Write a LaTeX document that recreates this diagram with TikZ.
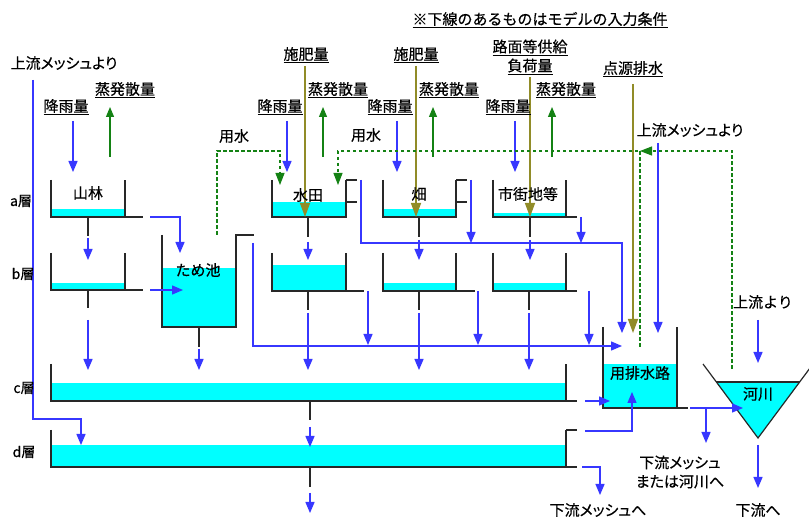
\documentclass[tikz,border=0pt]{standalone}
\usepackage{fontspec}
\setmainfont[FakeBold=0.4]{Noto Sans CJK JP}
\newfontfamily\kanafont[RawFeature=+palt,FakeBold=0.4]{Noto Sans CJK JP}
\usepackage{tikz}
\usetikzlibrary{arrows.meta}
\definecolor{flowblue}{RGB}{55,55,255}
\definecolor{wallgray}{RGB}{40,40,40}
\definecolor{watercyan}{RGB}{0,255,255}
\definecolor{usegreen}{RGB}{20,130,20}
\definecolor{fertolive}{RGB}{145,140,40}

% open tank: left, right, top, bottom, water level
\newcommand{\tank}[5]{%
  \fill[water] (#1,#5) rectangle (#2,#4);
  \draw[wall] (#1,#3) -- (#1,#4) -- (#2,#4) -- (#2,#3);}
% drain below a tank: x, tank bottom, stub end, arrow start, arrow tip
\newcommand{\drain}[5]{%
  \draw[wall] (#1,#2) -- (#1,#3);
  \draw[flow] (#1,#4) -- (#1,#5);}

\begin{document}
\begin{tikzpicture}[x=1pt, y=-1pt,
      wall/.style={draw=wallgray, line width=1.2pt},
      water/.style={fill=watercyan},
      flow/.style={draw=flowblue, line width=1.3pt, -{Triangle[length=11pt,width=9pt]}},
      supply/.style={draw=usegreen, line width=1.1pt, dash pattern=on 3.5pt off 2.5pt,
                     -{Triangle[length=12pt,width=9pt]}},
      evap/.style={draw=usegreen, line width=1.2pt, -{Triangle[length=10pt,width=8pt]}},
      nutrient/.style={draw=fertolive, line width=1.4pt, -{Triangle[length=14pt,width=10pt]}},
      lbl/.style={font=\fontsize{15}{19}\selectfont, inner sep=0pt, align=center},
      kana/.style={font=\kanafont\fontsize{15}{19}\selectfont, inner sep=0pt, align=center},
      lay/.style={font=\fontsize{14}{16}\selectfont, inner sep=0pt}
  ]
    \clip (0,0) rectangle (809,518);
    \fill[white] (0,0) rectangle (809,518);

    % tanks, layer a
    \tank{51}{125}{180}{217}{209}  \draw[wall] (125,217) -- (143,217);
    \tank{272}{346}{180}{217}{202} \draw[wall] (346,180) -- (357,180) (346,202) -- (357,202);
    \tank{383}{456}{180}{217}{209} \draw[wall] (456,180) -- (467,180) (456,202) -- (467,202);
    \tank{493}{566}{180}{217}{213} \draw[wall] (566,217) -- (577,217);
    % tanks, layer b
    \tank{51}{125}{253}{290}{283}  \draw[wall] (125,290) -- (143,290);
    \tank{272}{346}{253}{291}{265} \draw[wall] (346,291) -- (364,291);
    \tank{383}{456}{253}{291}{283} \draw[wall] (456,291) -- (475,291);
    \tank{493}{566}{253}{291}{283} \draw[wall] (566,291) -- (577,291);
    % pond
    \fill[water] (162,268) rectangle (236,327);
    \draw[wall] (162,235) -- (162,327) -- (236,327) -- (236,235) -- (254,235);
    % layers c and d
    \tank{51}{566}{364}{401}{383}  \draw[wall] (566,401) -- (577,401);
    \tank{51}{566}{430}{467}{445}  \draw[wall] (566,430) -- (577,430) (566,467) -- (577,467);
    % canal
    \tank{603}{677}{327}{408}{364} \draw[wall] (677,408) -- (688,408);
    % river
    \fill[water] (716,382) -- (758,438) -- (800,382) -- cycle;
    \draw[wall] (703,364) -- (758,438) -- (813,364);
    \draw[wall] (716,382) -- (800,382);

    % drains between layers
    \drain{88}{217}{236}{238}{260}   \drain{88}{290}{308}{320}{370}
    \drain{308}{217}{237}{242}{260}  \drain{308}{291}{310}{313}{370}
    \drain{419}{217}{237}{240}{260}  \drain{419}{291}{310}{313}{370}
    \drain{530}{217}{237}{240}{260}  \drain{529}{291}{310}{313}{370}
    \drain{199}{327}{347}{349}{370}
    \drain{310}{401}{420}{427}{447}  \drain{310}{467}{487}{493}{513}

    % rain and evapotranspiration
    \foreach \xr/\xe in {73/110, 287/323, 397/433, 515/552} {
      \draw[flow] (\xr,121) -- (\xr,172);
      \draw[evap] (\xe,157) -- (\xe,107);
    }
    % fertilizer, load, point source
    \draw[nutrient] (305,66) -- (305,217);
    \draw[nutrient] (416,66) -- (416,217);
    \draw[nutrient] (530,77) -- (530,217);
    \draw[nutrient] (633,84) -- (633,333);

    % lateral flows
    \draw[flow] (33,80) -- (33,419) -- (81,419) -- (81,445);
    \draw[flow] (150,217) -- (180,217) -- (180,253);
    \draw[flow] (150,290) -- (183,290);
    \draw[flow] (361,180) -- (361,243) -- (622,243) -- (622,333);
    \draw[flow] (471,180) -- (471,243);
    \draw[flow] (581,217) -- (581,243);
    \draw[flow] (253,243) -- (253,346) -- (622,346);
    \draw[flow] (368,291) -- (368,345);
    \draw[flow] (478,291) -- (478,345);
    \draw[flow] (589,291) -- (589,345);
    \draw[flow] (585,401) -- (610,401);
    \draw[flow] (585,431) -- (632,431) -- (632,392);
    \draw[flow] (582,467) -- (600,467) -- (600,495);
    \draw[flow] (658,143) -- (658,333);
    \draw[flow] (690,408) -- (743,408);
    \draw[flow] (706,408) -- (706,443);
    \draw[flow] (758,320) -- (758,363);
    \draw[flow] (758,445) -- (758,488);

    % irrigation water
    \draw[supply] (217,235) -- (217,151) -- (280,151) -- (280,185);
    \draw[supply] (640,347) -- (640,151) -- (338,151) -- (338,185);
    \draw[supply] (732,369) -- (732,151) -- (640,151);

    % labels
    \node[lbl] (note) at (540,20) {\underline{※下線のあるものはモデルの入力条件}};
    \node[kana] (upL) at (64,63) {上流メッシュより};
    \node[lbl] (rainF) at (66,107) {\underline{降雨量}};
    \node[lbl] (evapF) at (125,90) {\underline{蒸発散量}};
    \node[lbl] (fertP) at (306,55) {\underline{施肥量}};
    \node[lbl] (rainP) at (280,107) {\underline{降雨量}};
    \node[lbl] (evapP) at (338,90) {\underline{蒸発散量}};
    \node[lbl] (fertU) at (416,55) {\underline{施肥量}};
    \node[lbl] (rainU) at (390,107) {\underline{降雨量}};
    \node[lbl] (evapU) at (449,90) {\underline{蒸発散量}};
    \node[lbl] (loadC) at (530,57) {\underline{路面等供給}\\\underline{負荷量}};
    \node[lbl] (rainC) at (508,107) {\underline{降雨量}};
    \node[lbl] (evapC) at (566,90) {\underline{蒸発散量}};
    \node[lbl] (pointS) at (633,69) {\underline{点源排水}};
    \node[kana] (upR) at (690,130) {上流メッシュより};
    \node[lbl] (useL) at (234,136) {用水};
    \node[lbl] (useR) at (366,135) {用水};
    \node[lay] (layA) at (21,201) {a層};
    \node[lay] (layB) at (23,274) {b層};
    \node[lay] (layC) at (24,388) {c層};
    \node[lay] (layD) at (24,452) {d層};
    \node[lbl] (forest) at (88,193) {山林};
    \node[lbl] (pond) at (198,270) {ため池};
    \node[lbl] (paddy) at (308,195) {水田};
    \node[lbl] (upland) at (419,194) {畑};
    \node[lbl] (urban) at (528,194) {市街地等};
    \node[lbl] (canal) at (640,373) {用排水路};
    \node[lbl] (river) at (758,394) {河川};
    \node[lbl] (upRiv) at (763,302) {上流より};
    \node[kana] (downMesh) at (598,510) {下流メッシュへ};
    \node[kana] (downCanal) at (680,472) {下流メッシュ\\または河川へ};
    \node[lbl] (downRiv) at (758,510) {下流へ};
\end{tikzpicture}
\end{document}
